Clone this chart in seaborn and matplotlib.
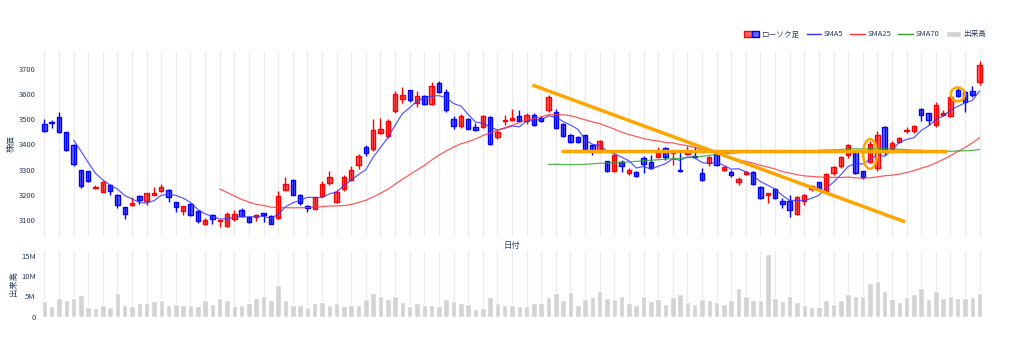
import numpy as np
import pandas as pd
import seaborn as sns
import matplotlib.pyplot as plt
from matplotlib.patches import Patch, Ellipse
from matplotlib.lines import Line2D
from matplotlib.legend_handler import HandlerTuple

# daily candles (one value per trading day)
opens = [3481, 3490, 3508, 3449, 3396, 3297, 3293, 3226, 3211, 3240,
         3198, 3152, 3158, 3196, 3177, 3200, 3216, 3220, 3171, 3137,
         3163, 3136, 3084, 3121, 3095, 3075, 3105, 3141, 3112, 3113,
         3128, 3115, 3108, 3220, 3260, 3200, 3155, 3145, 3194, 3246,
         3171, 3224, 3260, 3319, 3388, 3383, 3445, 3432, 3531, 3581,
         3615, 3564, 3593, 3560, 3643, 3606, 3500, 3474, 3502, 3469,
         3469, 3510, 3430, 3493, 3498, 3514, 3491, 3515, 3504, 3535,
         3528, 3481, 3438, 3429, 3436, 3399, 3370, 3335, 3293, 3329,
         3286, 3289, 3346, 3330, 3350, 3385, 3366, 3300, 3363, 3355,
         3286, 3326, 3362, 3297, 3290, 3249, 3282, 3290, 3233, 3200,
         3224, 3174, 3177, 3124, 3177, 3223, 3249, 3216, 3286, 3313,
         3356, 3372, 3293, 3330, 3306, 3470, 3381, 3409, 3451, 3451,
         3540, 3524, 3475, 3515, 3514, 3614, 3608, 3610, 3647]
highs = [3500, 3497, 3529, 3450, 3400, 3298, 3295, 3240, 3255, 3243,
         3205, 3153, 3190, 3198, 3208, 3231, 3243, 3222, 3172, 3156,
         3167, 3138, 3110, 3124, 3102, 3132, 3141, 3148, 3117, 3124,
         3130, 3121, 3216, 3271, 3262, 3203, 3161, 3193, 3253, 3293,
         3220, 3280, 3313, 3362, 3396, 3502, 3504, 3500, 3610, 3626,
         3616, 3610, 3597, 3647, 3652, 3621, 3511, 3520, 3504, 3485,
         3515, 3514, 3458, 3515, 3540, 3537, 3524, 3524, 3511, 3594,
         3541, 3483, 3440, 3434, 3438, 3401, 3418, 3336, 3362, 3339,
         3306, 3293, 3352, 3359, 3388, 3388, 3372, 3375, 3392, 3388,
         3306, 3355, 3366, 3313, 3299, 3269, 3293, 3293, 3237, 3209,
         3227, 3187, 3198, 3194, 3203, 3240, 3252, 3286, 3313, 3352,
         3401, 3374, 3295, 3412, 3454, 3472, 3412, 3431, 3470, 3477,
         3545, 3526, 3567, 3537, 3590, 3623, 3613, 3630, 3732]
lows = [3449, 3465, 3447, 3372, 3313, 3229, 3250, 3224, 3210, 3200,
        3148, 3104, 3156, 3165, 3158, 3198, 3213, 3170, 3134, 3121,
        3118, 3090, 3082, 3085, 3071, 3071, 3095, 3111, 3090, 3095,
        3091, 3084, 3104, 3219, 3198, 3161, 3132, 3143, 3190, 3240,
        3167, 3214, 3256, 3302, 3352, 3375, 3441, 3425, 3524, 3564,
        3567, 3547, 3557, 3557, 3604, 3527, 3461, 3465, 3460, 3454,
        3465, 3399, 3421, 3478, 3491, 3491, 3482, 3474, 3489, 3527,
        3462, 3429, 3405, 3405, 3377, 3356, 3368, 3291, 3290, 3290,
        3280, 3272, 3286, 3304, 3348, 3339, 3317, 3291, 3359, 3346,
        3256, 3313, 3313, 3295, 3270, 3240, 3277, 3240, 3185, 3167,
        3184, 3148, 3111, 3121, 3161, 3214, 3220, 3214, 3280, 3306,
        3346, 3282, 3264, 3326, 3293, 3356, 3374, 3405, 3444, 3444,
        3492, 3475, 3470, 3511, 3507, 3586, 3528, 3586, 3637]
closes = [3452, 3484, 3449, 3379, 3322, 3236, 3256, 3233, 3251, 3216,
          3161, 3125, 3167, 3178, 3207, 3206, 3233, 3190, 3152, 3154,
          3121, 3095, 3101, 3104, 3100, 3125, 3124, 3117, 3093, 3121,
          3119, 3086, 3194, 3243, 3200, 3168, 3146, 3190, 3244, 3270,
          3210, 3270, 3300, 3352, 3366, 3458, 3461, 3491, 3601, 3597,
          3576, 3590, 3561, 3630, 3608, 3535, 3474, 3514, 3462, 3458,
          3511, 3403, 3449, 3497, 3505, 3494, 3515, 3478, 3492, 3586,
          3465, 3432, 3409, 3408, 3379, 3372, 3415, 3293, 3356, 3313,
          3298, 3273, 3322, 3306, 3366, 3350, 3370, 3293, 3372, 3349,
          3257, 3350, 3317, 3309, 3277, 3264, 3290, 3243, 3187, 3207,
          3187, 3165, 3141, 3190, 3200, 3236, 3224, 3282, 3309, 3348,
          3399, 3286, 3269, 3401, 3436, 3372, 3405, 3427, 3457, 3471,
          3515, 3495, 3554, 3524, 3586, 3593, 3568, 3597, 3716]
volume_m = [3.9, 2.6, 4.7, 4.0, 4.6, 5.4, 2.4, 2.2, 2.8, 2.4,
            5.8, 2.9, 2.7, 3.3, 3.3, 3.9, 4.2, 3.0, 3.1, 3.0,
            2.9, 2.6, 4.2, 3.2, 4.6, 4.2, 2.6, 3.0, 3.3, 4.6,
            5.0, 4.0, 7.8, 4.2, 3.0, 2.8, 2.4, 3.3, 3.6, 3.0,
            3.4, 2.6, 3.0, 3.0, 4.4, 5.9, 5.2, 4.3, 5.1, 3.6,
            2.7, 3.5, 2.9, 3.0, 2.6, 4.4, 3.9, 3.5, 3.1, 2.0,
            2.2, 4.9, 3.3, 2.9, 3.0, 2.6, 2.6, 3.5, 3.4, 4.8,
            5.9, 4.0, 6.1, 3.0, 4.4, 4.9, 6.3, 4.6, 4.4, 5.0,
            3.4, 2.9, 5.2, 3.9, 4.4, 3.1, 4.9, 5.5, 3.6, 3.1,
            4.4, 4.0, 3.6, 3.1, 4.0, 7.0, 5.2, 4.0, 4.0, 15.5,
            4.6, 3.8, 5.1, 3.6, 2.8, 2.5, 2.3, 4.2, 3.2, 4.0,
            5.5, 5.1, 5.1, 8.2, 8.8, 6.4, 4.4, 3.7, 4.9, 5.5,
            7.2, 4.4, 6.3, 4.7, 5.2, 4.7, 4.7, 4.9, 5.8]

# hand drawn annotations (candle index, price)
down_line_x = [66.8, 117.8]
down_line_y = [3635, 3093]
flat_line_x = [70.7, 123.5]
flat_line_y = [3375, 3375]
circle_x = [113, 125]
circle_y = [3362, 3598]
circle_h = [118, 55]

price_ticks = [3100, 3200, 3300, 3400, 3500, 3600, 3700]
vol_ticks = [0, 5e6, 10e6, 15e6]
vol_labels = ['0', '5M', '10M', '15M']

df = pd.DataFrame({'Open': opens, 'High': highs, 'Low': lows, 'Close': closes,
                   'Volume': [v * 1e6 for v in volume_m]})
df['idx'] = range(len(df))
df['SMA5'] = df['Close'].rolling(5).mean()
df['SMA25'] = df['Close'].rolling(25).mean()
df['SMA70'] = df['Close'].rolling(70).mean()

sns.set_style('white')
plt.rcParams['font.family'] = ['Noto Sans CJK JP', 'DejaVu Sans']
txt = '#2a3f5f'

fig = plt.figure(figsize=(10.24, 3.58), dpi=100)
ax = fig.add_axes([0.039, 0.338, 0.922, 0.5196])
axv = fig.add_axes([0.039, 0.1154, 0.922, 0.1844])

# candles
up = df['Close'] >= df['Open']
edge = np.where(up, '#ff0000', '#0000ff')
fill = [(1, 0, 0, 0.6) if u else (0, 0, 1, 0.6) for u in up]
ax.vlines(df['idx'], df['Low'], df['High'], colors=edge, linewidth=1, zorder=2)
body_bottom = df[['Open', 'Close']].min(axis=1)
body_h = (df['Close'] - df['Open']).abs().clip(lower=3)
ax.bar(df['idx'], body_h, bottom=body_bottom, width=0.6, color=fill,
       edgecolor=edge, linewidth=1, zorder=3)

# moving averages
sns.lineplot(data=df, x='idx', y='SMA5', color='#3333ff', linewidth=0.9, alpha=0.8, ax=ax, zorder=4)
sns.lineplot(data=df, x='idx', y='SMA25', color='#ff3333', linewidth=0.9, alpha=0.8, ax=ax, zorder=4)
sns.lineplot(data=df, x='idx', y='SMA70', color='#2ca02c', linewidth=0.9, alpha=0.8, ax=ax, zorder=4)

# annotations
ax.plot(down_line_x, down_line_y, color='orange', linewidth=2.5, zorder=5, solid_capstyle='butt')
ax.plot(flat_line_x, flat_line_y, color='orange', linewidth=2.5, zorder=5, solid_capstyle='butt')
for cx, cy, ch in zip(circle_x, circle_y, circle_h):
    ax.add_patch(Ellipse((cx, cy), width=1.9, height=ch, fill=False,
                         edgecolor='orange', linewidth=1.8, zorder=6))

# volume
sns.barplot(data=df, x='idx', y='Volume', color='lightgrey', saturation=1,
            width=0.75, ax=axv, zorder=3)

for a in (ax, axv):
    a.set_xlim(-0.6, 128.6)
    a.set_xticks(range(0, 129, 2))
    a.grid(axis='x', color='#ebebeb', linewidth=0.9, zorder=0)
    a.grid(axis='y', visible=False)
    a.tick_params(axis='x', labelbottom=False, length=0)
    a.tick_params(axis='y', length=0, labelsize=5.5, labelcolor=txt, pad=3)
    a.set_axisbelow(True)
    sns.despine(ax=a, left=True, bottom=True)

ax.set_ylim(3033, 3770)
ax.set_yticks(price_ticks)
ax.set_ylabel('株価', fontsize=6, color=txt, labelpad=2)
ax.set_xlabel('日付', fontsize=6, color=txt, labelpad=3)

axv.set_ylim(0, 16.3e6)
axv.set_yticks(vol_ticks)
axv.set_yticklabels(vol_labels)
axv.set_ylabel('出来高', fontsize=6, color=txt, labelpad=2)
axv.set_xlabel('')

handles = [(Patch(facecolor=(1, 0, 0, 0.6), edgecolor='red'),
            Patch(facecolor=(0, 0, 1, 0.6), edgecolor='blue')),
           Line2D([], [], color='#3333ff', linewidth=1),
           Line2D([], [], color='#ff3333', linewidth=1),
           Line2D([], [], color='#2ca02c', linewidth=1),
           Patch(facecolor='lightgrey')]
labels = ['ローソク足', 'SMA5', 'SMA25', 'SMA70', '出来高']
fig.legend(handles, labels, handler_map={tuple: HandlerTuple(ndivide=None, pad=0)},
           ncol=5, loc='upper right', bbox_to_anchor=(0.963, 0.915), frameon=False,
           fontsize=5.5, labelcolor=txt, handlelength=1.9, handleheight=0.8,
           columnspacing=0.9, handletextpad=0.35, borderpad=0, borderaxespad=0)

fig.savefig('out.png', dpi=100)
